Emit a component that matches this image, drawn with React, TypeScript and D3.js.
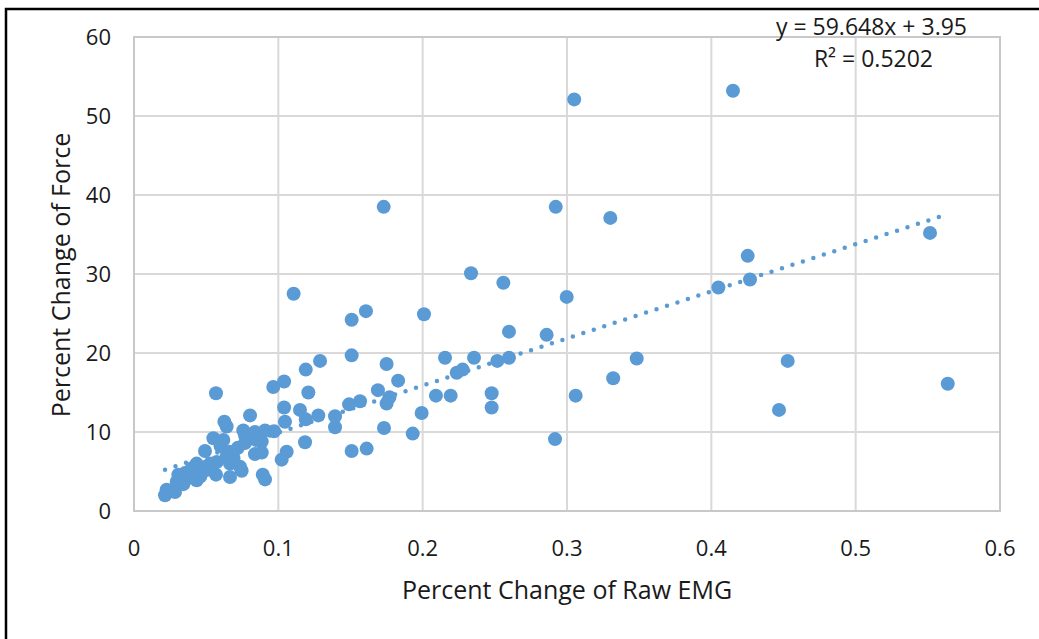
import React from "react";
import * as d3 from "d3";

// Percent change of raw EMG (x) and percent change of force (y), one entry per trial
const emgChange: number[] = [
  0.305, 0.415, 0.173, 0.2922, 0.33, 0.5515, 0.4252, 0.2335, 0.4268, 0.2559,
  0.4049, 0.1106, 0.2998, 0.1607, 0.2009, 0.1508, 0.2598, 0.2859, 0.1508, 0.1289,
  0.2155, 0.2356, 0.2517, 0.2598, 0.3483, 0.4529, 0.175, 0.119, 0.2236, 0.2277,
  0.332, 0.183, 0.5638, 0.104, 0.0965, 0.169, 0.1208, 0.0568, 0.2478, 0.306,
  0.2092, 0.2194, 0.177, 0.175, 0.149, 0.1566, 0.2478, 0.104, 0.115, 0.4469,
  0.1277, 0.1393, 0.1993, 0.0804, 0.1046, 0.119, 0.0626, 0.0642, 0.1393, 0.1732,
  0.0757, 0.0838, 0.0908, 0.097, 0.1931, 0.0769, 0.2917, 0.055, 0.0619, 0.0845,
  0.0885, 0.0769, 0.1185, 0.1612, 0.1508, 0.1058, 0.0492, 0.0885, 0.0838, 0.0665,
  0.0642, 0.1023, 0.0573, 0.0527, 0.0434, 0.0665, 0.0734, 0.0499, 0.04, 0.0746,
  0.0504, 0.0353, 0.0307, 0.0568, 0.0892, 0.0665, 0.0908, 0.0434, 0.0296, 0.0342,
  0.0226, 0.0284, 0.0215, 0.038, 0.046, 0.06, 0.069, 0.072,
];
const forceChange: number[] = [
  52.1, 53.2, 38.5, 38.5, 37.1, 35.2, 32.3, 30.1, 29.3, 28.9,
  28.3, 27.5, 27.1, 25.3, 24.9, 24.2, 22.7, 22.3, 19.7, 19.0,
  19.4, 19.4, 19.0, 19.4, 19.3, 19.0, 18.6, 17.9, 17.5, 17.9,
  16.8, 16.5, 16.1, 16.4, 15.7, 15.3, 15.0, 14.9, 14.9, 14.6,
  14.6, 14.6, 14.4, 13.6, 13.5, 13.9, 13.1, 13.1, 12.8, 12.8,
  12.1, 12.0, 12.4, 12.1, 11.3, 11.6, 11.3, 10.7, 10.6, 10.5,
  10.2, 10.0, 10.2, 10.1, 9.8, 9.6, 9.1, 9.2, 9.0, 9.0,
  8.8, 8.6, 8.7, 7.9, 7.6, 7.5, 7.6, 7.4, 7.2, 7.5,
  6.9, 6.5, 6.2, 6.0, 6.0, 6.0, 5.6, 5.6, 5.4, 5.1,
  5.2, 4.8, 4.6, 4.6, 4.6, 4.3, 4.0, 3.9, 3.7, 3.4,
  2.7, 2.4, 2.0, 4.2, 4.4, 8.2, 6.7, 8.0,
];

// Linear trendline coefficients, as stated in the equation label
const trendSlope = 59.648;
const trendIntercept = 3.95;
const rSquared = "0.5202";

const xTicks: number[] = [0, 0.1, 0.2, 0.3, 0.4, 0.5, 0.6];
const yTicks: number[] = [0, 10, 20, 30, 40, 50, 60];

const xTitle = "Percent Change of Raw EMG";
const yTitle = "Percent Change of Force";

const WIDTH = 1039;
const HEIGHT = 639;
const plot = { left: 134, right: 1000, top: 37, bottom: 511 };
const BLUE = "#5b9bd5";
const INK = "#1a1a1a";
const FONT = "'Open Sans', 'Noto Sans', sans-serif";

export default function App() {
  const x = d3.scaleLinear().domain([0, 0.6]).range([plot.left, plot.right]);
  const y = d3.scaleLinear().domain([0, 60]).range([plot.bottom, plot.top]);

  const points = emgChange.map((v, i) => ({ x: v, y: forceChange[i] }));
  const [xMin, xMax] = d3.extent(emgChange) as [number, number];
  const trend = d3
    .line<number>()
    .x((d) => x(d))
    .y((d) => y(trendSlope * d + trendIntercept))([xMin, xMax]);

  return (
    <svg
      width={WIDTH}
      height={HEIGHT}
      style={{ position: "absolute", left: 0, top: 0, background: "#fff" }}
      fontFamily={FONT}
    >
      <rect x={0} y={0} width={WIDTH} height={HEIGHT} fill="#fff" />
      {/* outer frame: top and left edges */}
      <path d={`M6,${HEIGHT} L6,9 L${WIDTH},9`} fill="none" stroke="#000" strokeWidth={2.5} />

      {/* gridlines */}
      {yTicks.map((t) => (
        <line key={`gy${t}`} x1={plot.left} x2={plot.right} y1={y(t)} y2={y(t)} stroke="#d9d9d9" strokeWidth={2} />
      ))}
      {xTicks.map((t) => (
        <line key={`gx${t}`} x1={x(t)} x2={x(t)} y1={plot.top} y2={plot.bottom} stroke="#d9d9d9" strokeWidth={2} />
      ))}
      {/* plot area border */}
      <rect
        x={plot.left}
        y={plot.top}
        width={plot.right - plot.left}
        height={plot.bottom - plot.top}
        fill="none"
        stroke="#c8c8c8"
        strokeWidth={2}
      />

      {/* tick labels */}
      {yTicks.map((t) => (
        <text key={`ty${t}`} x={111} y={y(t)} dy="0.36em" textAnchor="end" fontSize={22} fill={INK}>
          {t}
        </text>
      ))}
      {xTicks.map((t) => (
        <text key={`tx${t}`} x={x(t)} y={548} dy="0.36em" textAnchor="middle" fontSize={22} fill={INK}>
          {d3.format("")(t)}
        </text>
      ))}

      {/* axis titles */}
      <text x={567} y={590} dy="0.36em" textAnchor="middle" fontSize={25} fill={INK}>
        {xTitle}
      </text>
      <text
        transform={`translate(61,${(plot.top + plot.bottom) / 2 + 1}) rotate(-90)`}
        dy="0.36em"
        textAnchor="middle"
        fontSize={25}
        fill={INK}
      >
        {yTitle}
      </text>

      {/* scatter points */}
      {points.map((p, i) => (
        <circle key={i} cx={x(p.x)} cy={y(p.y)} r={7} fill={BLUE} />
      ))}

      {/* dotted linear trendline */}
      <path
        d={trend ?? ""}
        fill="none"
        stroke={BLUE}
        strokeWidth={4.5}
        strokeLinecap="round"
        strokeDasharray="0 11"
      />

      {/* trendline equation */}
      <text x={967} y={27} dy="0.36em" textAnchor="end" fontSize={23} fill={INK}>
        {`y = ${trendSlope}x + ${trendIntercept}`}
      </text>
      <text x={933} y={59} dy="0.36em" textAnchor="end" fontSize={23} fill={INK}>
        {`R² = ${rSquared}`}
      </text>
    </svg>
  );
}
